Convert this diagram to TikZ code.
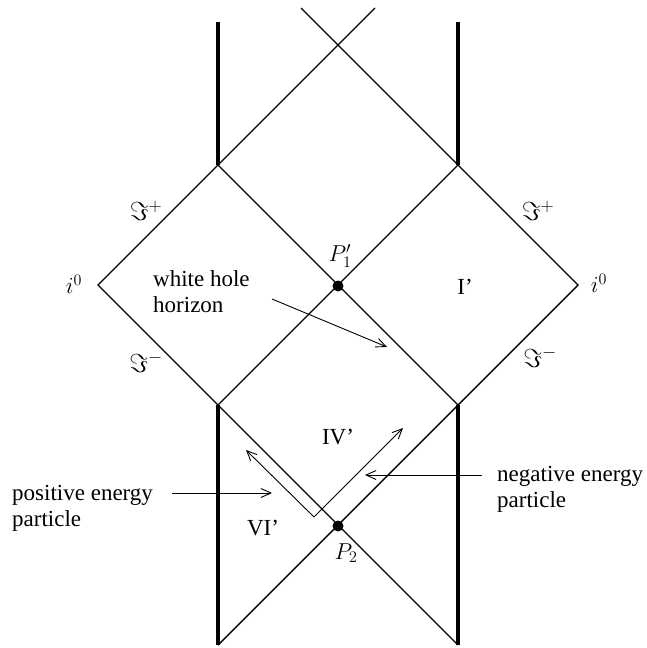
\documentclass[tikz,border=0pt]{standalone}
\usepackage{fix-cm}
\usepackage{fontspec}
\setmainfont{Liberation Serif}
\usetikzlibrary{arrows.meta}
\begin{document}
\begin{tikzpicture}[x=1pt,y=-1pt,
  edge/.style={line width=1.4pt},
  wall/.style={line width=4.8pt},
  ptr/.style={line width=0.9pt,-{Straight Barb[length=10pt,width=9pt,line width=0.9pt]}},
  lbl/.style={font=\fontsize{23}{26}\selectfont,inner sep=0pt},
  scri/.style={font=\fontsize{26}{28}\selectfont,inner sep=0pt},
  dot/.style={circle,fill=black,inner sep=0pt,minimum size=11pt}]
\useasboundingbox (0,0) rectangle (646,648);
% vertices
\coordinate (TLw) at (218,22);
\coordinate (TRw) at (458,22);
\coordinate (A) at (218,165);
\coordinate (C) at (458,165);
\coordinate (L) at (98,285);
\coordinate (R) at (578,285);
\coordinate (B) at (218,405);
\coordinate (D) at (458,405);
\coordinate (E) at (218,645);
\coordinate (F) at (458,645);
\coordinate (Ta) at (375,8);
\coordinate (Tb) at (301,8);
\node[dot] (P1) at (338,286) {};
\node[dot] (P2) at (338,526) {};
% walls
\draw[wall] (TLw) -- (A);
\draw[wall] (TRw) -- (C);
\draw[wall] (B) -- (E);
\draw[wall] (D) -- (F);
% null lines
\draw[edge] (A) -- (L) -- (B);
\draw[edge] (C) -- (R) -- (D);
\draw[edge] (A) -- (Ta);
\draw[edge] (C) -- (Tb);
\draw[edge] (A) -- (D);
\draw[edge] (C) -- (B);
\draw[edge] (B) -- (F);
\draw[edge] (D) -- (E);
% particles
\coordinate (V) at (314,517);
\coordinate (Vl) at (246,450);
\coordinate (Vr) at (403,428);
\draw[ptr] (V) -- (Vl);
\draw[ptr] (V) -- (Vr);
% labels
\node[lbl] (i0l) at (74,284) {$i^0$};
\node[lbl] (i0r) at (599,283) {$i^0$};
\node[scri] (Spl) at (146,211) {$\Im^+$};
\node[scri] (Sml) at (146,362) {$\Im^-$};
\node[scri] (Spr) at (538,211) {$\Im^+$};
\node[scri] (Smr) at (540,357) {$\Im^-$};
\node[lbl] (I) at (465,287) {I'};
\node[lbl] (IV) at (338,437) {IV'};
\node[lbl] (VI) at (263,528) {VI'};
\node[lbl] (P1l) at (340,256) {$P_1'$};
\node[lbl] (P2l) at (346,553) {$P_2$};
\node[lbl,anchor=west,align=left] (wh) at (153,292) {white hole\\horizon};
\node[lbl,anchor=west,align=left] (pos) at (12,508) {positive energy\\particle};
\node[lbl,anchor=west,align=left] (neg) at (497,489) {negative energy\\particle};
\coordinate (whs) at (272,299);
\coordinate (wht) at (387,347);
\draw[ptr] (whs) -- (wht);
\coordinate (poss) at (172,493);
\coordinate (post) at (272,493);
\draw[ptr] (poss) -- (post);
\coordinate (negs) at (482,475);
\coordinate (negt) at (365,475);
\draw[ptr] (negs) -- (negt);
\end{tikzpicture}
\end{document}
